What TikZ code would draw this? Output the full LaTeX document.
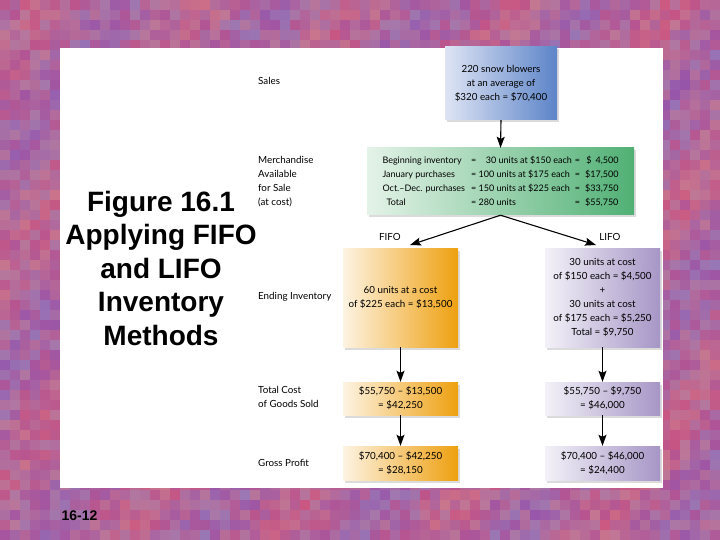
\documentclass[tikz,border=0pt]{standalone}
\usepackage{fontspec}
\setmainfont{Lato}
\newfontfamily\arialfont{Liberation Sans}
\usetikzlibrary{shadows,arrows.meta}
\definecolor{salesL}{RGB}{222,228,244}
\definecolor{salesR}{RGB}{92,132,200}
\definecolor{greenL}{RGB}{228,243,232}
\definecolor{greenR}{RGB}{80,176,116}
\definecolor{fifoL}{RGB}{253,243,226}
\definecolor{fifoR}{RGB}{238,160,16}
\definecolor{lifoL}{RGB}{243,241,248}
\definecolor{lifoR}{RGB}{166,150,198}
\newcommand\lblfont{\fontsize{9.8}{14}\selectfont}
\tikzset{
  box/.style={inner sep=0pt, align=center, font=\lblfont,
    drop shadow={shadow xshift=1.5pt, shadow yshift=-2.5pt, opacity=0.14, fill=black}},
  colbox/.style={box, minimum width=115pt},
  lbl/.style={anchor=west, inner sep=0pt, align=left, font=\lblfont},
  head/.style={inner sep=0pt, font=\lblfont},
  arr/.style={draw=black, line width=1.1pt, -{Stealth[length=11pt,width=8pt,inset=2pt]}},
}
\begin{document}
\begin{tikzpicture}[x=1pt,y=-1pt]
\useasboundingbox (0,0) rectangle (720,540);
% mosaic background
\pgfmathsetseed{7}
\foreach \i in {0,...,71}{
  \foreach \j in {0,...,53}{
    \pgfmathsetmacro{\t}{0.5*rnd+0.5*(0.5+0.5*sin(\i*23+\j*17))}
    \pgfmathsetmacro{\u}{rnd}
    \pgfmathtruncatemacro{\rr}{150+55*\t}
    \pgfmathtruncatemacro{\gg}{85+35*\u}
    \pgfmathtruncatemacro{\bb}{172-45*\t+12*\u}
    \definecolor{cc}{RGB}{\rr,\gg,\bb}
    \fill[cc] (\i*10,\j*10) rectangle ++(10,10);
  }
}
% white panel
\fill[white] (60,48) rectangle (663,488);

% title
\node[align=center, inner sep=0pt, font=\arialfont\bfseries\fontsize{28}{33.5}\selectfont] (title) at (161,268)
  {Figure 16.1\\Applying FIFO\\and LIFO\\Inventory\\Methods};
\node[inner sep=0pt, font=\arialfont\bfseries\fontsize{14}{16}\selectfont] (pnum) at (79.5,516) {16-12};

% row labels
\node[lbl] (lsales) at (258,81) {Sales};
\node[lbl] (lmerch) at (258,182) {Merchandise\\Available\\for Sale\\(at cost)};
\node[lbl] (lend) at (258,297) {Ending Inventory};
\node[lbl] (lcogs) at (258,397) {Total Cost\\of Goods Sold};
\node[lbl] (lgp) at (258,463) {Gross Profit};

% sales box
\node[box, minimum width=112pt, minimum height=73pt, left color=salesL, right color=salesR] (sales) at (501,83.5)
  {220 snow blowers\\at an average of\\\$320 each = \$70,400};

% merchandise box
\node[box, minimum width=267pt, minimum height=67pt, left color=greenL, right color=greenR,
      font=\fontsize{9}{14}\selectfont] (merch) at (500.5,181.5)
  {\begin{tabular}{@{}l@{\hspace{6pt}}l@{\hspace{3pt}}c@{\hspace{5pt}}r@{}}
   Beginning inventory & = \phantom{1}\hspace{2pt}30 units at \$150 each & = & \$\hspace{4pt}4,500\\
   January purchases & = 100 units at \$175 each & = & \$17,500\\
   Oct.–Dec. purchases & = 150 units at \$225 each & = & \$33,750\\
   \hspace{4pt}Total & = 280 units & = & \$55,750
   \end{tabular}};

% FIFO / LIFO heads
\node[head] (fifo) at (390,237) {FIFO};
\node[head] (lifo) at (610,237) {LIFO};
\coordinate (fifotip) at (410,245);
\coordinate (lifotip) at (596,245);

% ending inventory
\node[colbox, minimum height=99pt, left color=fifoL, right color=fifoR] (fend) at (400.5,297.5)
  {60 units at a cost\\of \$225 each = \$13,500};
\node[colbox, minimum height=99pt, left color=lifoL, right color=lifoR] (lend2) at (602.5,297.5)
  {30 units at cost\\of \$150 each = \$4,500\\+\\30 units at cost\\of \$175 each = \$5,250\\Total = \$9,750};

% COGS
\node[colbox, minimum height=33pt, left color=fifoL, right color=fifoR] (fcogs) at (400.5,398.5)
  {\$55,750 – \$13,500\\= \$42,250};
\node[colbox, minimum height=33pt, left color=lifoL, right color=lifoR] (lcogs2) at (602.5,398.5)
  {\$55,750 – \$9,750\\= \$46,000};

% gross profit
\node[colbox, minimum height=34pt, left color=fifoL, right color=fifoR] (fgp) at (400.5,463)
  {\$70,400 – \$42,250\\= \$28,150};
\node[colbox, minimum height=34pt, left color=lifoL, right color=lifoR] (lgp2) at (602.5,463)
  {\$70,400 – \$46,000\\= \$24,400};

% connectors
\draw[arr] (sales.south) -- (merch.north);
\draw[arr] (merch.south) -- (fifotip);
\draw[arr] (merch.south) -- (lifotip);
\draw[arr] (fend.south) -- (fcogs.north);
\draw[arr] (lend2.south) -- (lcogs2.north);
\draw[arr] (fcogs.south) -- (fgp.north);
\draw[arr] (lcogs2.south) -- (lgp2.north);
\end{tikzpicture}
\end{document}
